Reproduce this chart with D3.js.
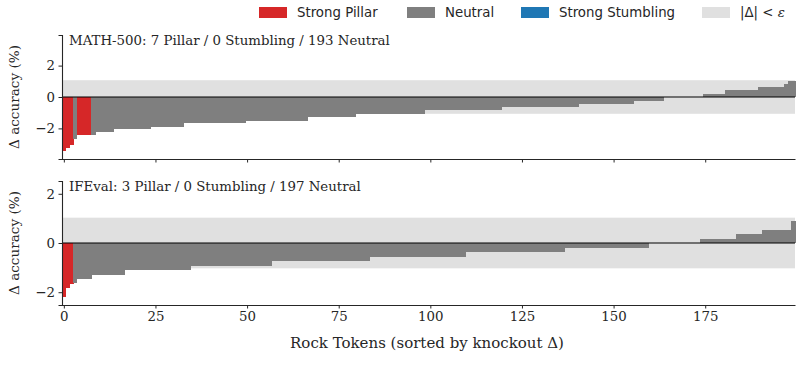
<!DOCTYPE html>
<html>
<head>
<meta charset="utf-8">
<script src="https://cdn.jsdelivr.net/npm/d3@7"></script>
<style>
  body { margin: 0; background: #fff; }
  svg { display: block; }
  .tick text { font-family: "DejaVu Serif", serif; font-size: 13.33px; fill: #262626; }
</style>
</head>
<body>
<svg id="chart" width="800" height="378"></svg>
<script>
// knockout deltas (%), stored as runs of equal value: value, run length, class
const mathDelta = [-3.43, -3.24, -3.05, -2.69, -2.45, -2.45, -2.2, -2.03, -1.88, -1.67, -1.5, -1.29, -1.06, -0.85, -0.64, -0.44, -0.25, 0, 0.17, 0.42, 0.62, 0.81, 1.0];
const mathCount = [1, 1, 1, 1, 4, 1, 5, 10, 9, 17, 17, 13, 19, 21, 21, 15, 8, 11, 6, 9, 7, 1, 2];
const mathType  = ["P", "P", "P", "N", "P", "N", "N", "N", "N", "N", "N", "N", "N", "N", "N", "N", "N", "N", "N", "N", "N", "N", "N"];

const ifDelta = [-2.2, -1.84, -1.67, -1.64, -1.48, -1.31, -1.1, -0.94, -0.73, -0.57, -0.37, -0.2, 0, 0.15, 0.36, 0.52, 0.89];
const ifCount = [1, 1, 1, 1, 4, 9, 18, 22, 27, 26, 27, 23, 14, 10, 7, 8, 1];
const ifType  = ["P", "P", "P", "N", "N", "N", "N", "N", "N", "N", "N", "N", "N", "N", "N", "N", "N"];

const yTicks = [-2, 0, 2];
const xTicks = [0, 25, 50, 75, 100, 125, 150, 175];

const legendLabels = ["Strong Pillar", "Neutral", "Strong Stumbling", "|\u0394| < "];
const legendColors = ["#d62728", "#7f7f7f", "#1f77b4", "#e0e0e0"];
const colorOf = { P: "#d62728", N: "#7f7f7f", S: "#1f77b4" };

function expand(vals, counts, types) {
  let out = [];
  vals.forEach((v, k) => {
    for (let j = 0; j < counts[k]; j++) out.push({ i: out.length, v: v, t: types[k] });
  });
  return out;
}

const panels = [
  { title: "MATH-500: 7 Pillar / 0 Stumbling / 193 Neutral", data: expand(mathDelta, mathCount, mathType), ylim: 3.95, eps: 1.07, top: 35, showLabels: false },
  { title: "IFEval: 3 Pillar / 0 Stumbling / 197 Neutral", data: expand(ifDelta, ifCount, ifType), ylim: 2.52, eps: 1.03, top: 181, showLabels: true }
];

const svg = d3.select("#chart");
const left = 62, right = 795, ph = 124;

const x = d3.scaleLinear().domain([-0.5, 199.5]).range([left, right]);

panels.forEach(p => {
  const y = d3.scaleLinear().domain([-p.ylim, p.ylim]).range([p.top + ph, p.top]);
  const g = svg.append("g");

  // |delta| < eps band
  g.append("rect")
    .attr("x", left).attr("width", right - left)
    .attr("y", y(p.eps)).attr("height", y(-p.eps) - y(p.eps))
    .attr("fill", "#e0e0e0");

  g.append("g")
    .attr("shape-rendering", "crispEdges")
    .selectAll("rect")
    .data(p.data)
    .enter().append("rect")
      .attr("x", d => x(d.i - 0.5))
      .attr("width", x(1) - x(0) + 0.6)
      .attr("y", d => y(Math.max(0, d.v)))
      .attr("height", d => Math.abs(y(d.v) - y(0)))
      .attr("fill", d => colorOf[d.t]);

  g.append("line")
    .attr("x1", left).attr("x2", right)
    .attr("y1", y(0)).attr("y2", y(0))
    .attr("stroke", "#000").attr("stroke-width", 1);

  const yAxis = g.append("g")
    .attr("transform", `translate(${left},0)`)
    .call(d3.axisLeft(y).tickValues(yTicks).tickSize(3.5).tickPadding(3.5).tickFormat(d => d < 0 ? "\u2212" + Math.abs(d) : d));
  yAxis.select(".domain").attr("stroke", "#262626").attr("stroke-width", 1.1);
  yAxis.selectAll(".tick line").attr("stroke", "#262626");

  const xAxis = g.append("g")
    .attr("transform", `translate(0,${p.top + ph})`)
    .call(d3.axisBottom(x).tickValues(xTicks).tickSize(3.5).tickPadding(3.5).tickSizeOuter(0));
  xAxis.select(".domain").attr("stroke", "#262626").attr("stroke-width", 1.1);
  xAxis.selectAll(".tick line").attr("stroke", "#262626");
  if (!p.showLabels) xAxis.selectAll(".tick text").remove();

  g.append("text")
    .attr("x", left + 7).attr("y", p.top + 10)
    .attr("font-family", "DejaVu Serif, serif").attr("font-size", 13.33)
    .attr("fill", "#262626")
    .text(p.title);

  g.append("text")
    .attr("transform", `translate(19,${p.top + ph / 2}) rotate(-90)`)
    .attr("text-anchor", "middle")
    .attr("font-family", "DejaVu Serif, serif").attr("font-size", 13.6)
    .attr("fill", "#262626")
    .text("\u0394 accuracy (%)");
});

svg.append("text")
  .attr("x", 427).attr("y", 348)
  .attr("text-anchor", "middle")
  .attr("font-family", "DejaVu Serif, serif").attr("font-size", 15)
  .attr("fill", "#262626")
  .text("Rock Tokens (sorted by knockout \u0394)");

// legend across the top
const legendX = [259, 407, 521, 702];
const legend = svg.append("g");
legendLabels.forEach((lab, k) => {
  legend.append("rect")
    .attr("x", legendX[k]).attr("y", 7)
    .attr("width", 28).attr("height", 11)
    .attr("fill", legendColors[k]);
  const t = legend.append("text")
    .attr("x", legendX[k] + 38).attr("y", 17)
    .attr("font-family", "DejaVu Sans, sans-serif").attr("font-size", 13.33)
    .attr("fill", "#262626")
    .text(lab);
  if (k === 3) {
    t.append("tspan")
      .attr("font-family", "DejaVu Serif, serif").attr("font-style", "italic")
      .text("\u03b5");
  }
});
</script>
</body>
</html>
